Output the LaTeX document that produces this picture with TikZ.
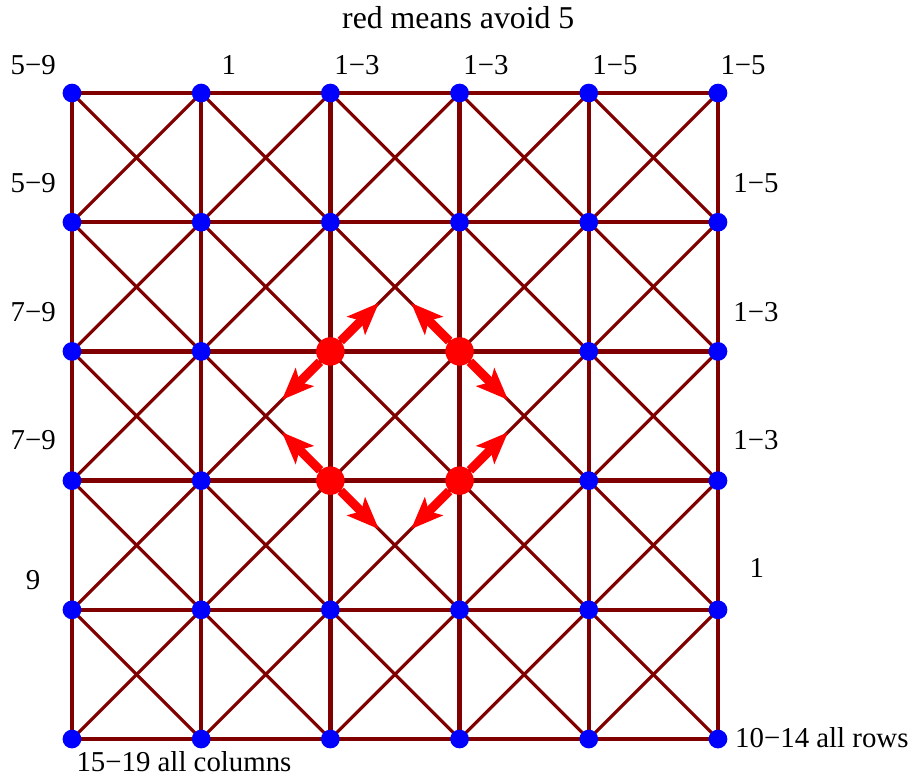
\documentclass[tikz,border=0pt]{standalone}
\usepackage{fontspec}
\setmainfont{Liberation Serif}
\usepackage{xcolor}
\usetikzlibrary{arrows.meta}

\definecolor{edgered}{RGB}{128,0,0}

\tikzset{
    dot/.style={circle, fill=blue, inner sep=0pt, minimum size=0.29cm},
    avoid/.style={circle, fill=red, inner sep=0pt, minimum size=0.44cm},
    lbl/.style={font=\fontsize{12.7}{14}\selectfont, inner sep=0pt},
    grid edge/.style={edgered, line width=1.9pt},
    diag edge/.style={edgered, line width=1.4pt},
    push/.style={red, line width=4pt, -{Stealth[length=14pt, width=11pt, inset=3pt]}}
}

\begin{document}
\begin{tikzpicture}[x=2cm, y=2cm]
    \useasboundingbox (-0.557, -0.286) rectangle (6.494, 5.720);

    % coordinates of the lattice points
    \foreach \i in {0,...,5}
        \foreach \j in {0,...,5}
            \coordinate (p\i\j) at (\i, \j);

    % straight edges
    \foreach \i in {0,...,5}
        \foreach \j [count=\k] in {0,...,4} {
            \draw[grid edge] (p\i\j) -- (p\i\k);
            \draw[grid edge] (p\j\i) -- (p\k\i);
        }

    % crossing edges in every cell
    \foreach \i [count=\ii] in {0,...,4}
        \foreach \j [count=\jj] in {0,...,4} {
            \draw[diag edge] (p\i\j) -- (p\ii\jj);
            \draw[diag edge] (p\ii\j) -- (p\i\jj);
        }

    % lattice points
    \foreach \i in {0,...,5}
        \foreach \j in {0,...,5}
            \node[dot] (n\i\j) at (p\i\j) {};

    % the four points to avoid
    \node[avoid] (r23) at (p23) {};
    \node[avoid] (r33) at (p33) {};
    \node[avoid] (r22) at (p22) {};
    \node[avoid] (r32) at (p32) {};

    \coordinate (t1) at (2.375, 3.375);
    \coordinate (t2) at (1.625, 2.625);
    \coordinate (t3) at (2.625, 3.375);
    \coordinate (t4) at (3.375, 2.625);
    \coordinate (t5) at (1.625, 2.375);
    \coordinate (t6) at (2.375, 1.625);
    \coordinate (t7) at (3.375, 2.375);
    \coordinate (t8) at (2.625, 1.625);

    \draw[push] (r23) -- (t1);
    \draw[push] (r23) -- (t2);
    \draw[push] (r33) -- (t3);
    \draw[push] (r33) -- (t4);
    \draw[push] (r22) -- (t5);
    \draw[push] (r22) -- (t6);
    \draw[push] (r32) -- (t7);
    \draw[push] (r32) -- (t8);

    % labels
    \node[font=\fontsize{14}{16}\selectfont, inner sep=0pt] (title) at (2.99, 5.58) {red means avoid 5};

    \node[lbl] (top0) at (-0.30, 5.217) {5−9};
    \node[lbl] (top1) at (1.215, 5.217) {1};
    \node[lbl] (top2) at (2.206, 5.217) {1−3};
    \node[lbl] (top3) at (3.204, 5.217) {1−3};
    \node[lbl] (top4) at (4.203, 5.217) {1−5};
    \node[lbl] (top5) at (5.194, 5.217) {1−5};

    \node[lbl] (left4) at (-0.30, 4.303) {5−9};
    \node[lbl] (left3) at (-0.30, 3.305) {7−9};
    \node[lbl] (left2) at (-0.30, 2.314) {7−9};
    \node[lbl] (left1) at (-0.30, 1.23) {9};

    \node[lbl] (right4) at (5.294, 4.303) {1−5};
    \node[lbl] (right3) at (5.294, 3.305) {1−3};
    \node[lbl] (right2) at (5.294, 2.314) {1−3};
    \node[lbl] (right1) at (5.30, 1.324) {1};

    \node[lbl, anchor=west] (rows) at (5.13, 0.008) {10−14 all rows};
    \node[lbl] (cols) at (0.867, -0.175) {15−19 all columns};
\end{tikzpicture}
\end{document}
